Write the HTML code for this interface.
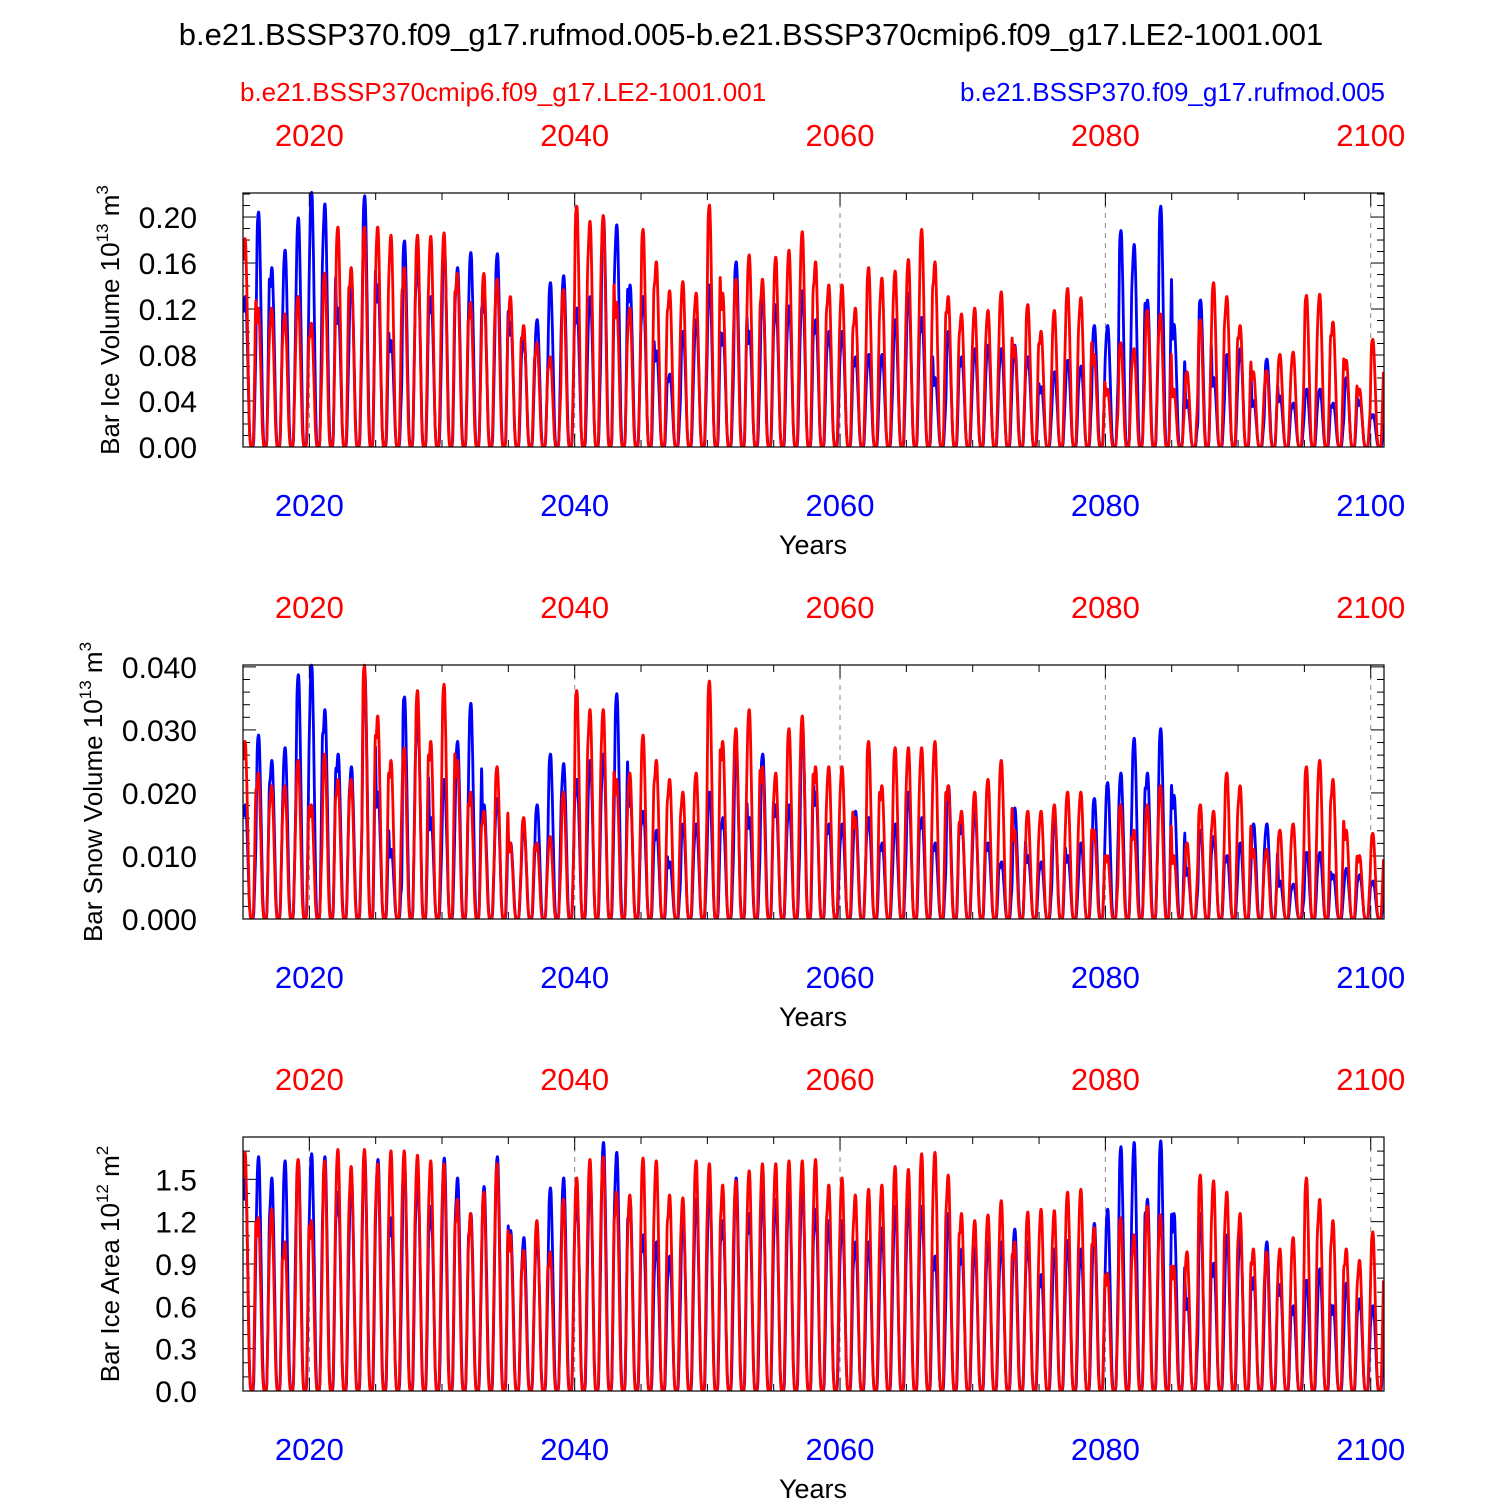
<!DOCTYPE html>
<html><head><meta charset="utf-8"><style>
body{margin:0;background:#fff}
svg text{font-family:"Liberation Sans",Arial,sans-serif}
</style></head><body>
<svg id="chart" width="1500" height="1500" xmlns="http://www.w3.org/2000/svg">
<text x="751" y="45" font-size="31" text-anchor="middle">b.e21.BSSP370.f09_g17.rufmod.005-b.e21.BSSP370cmip6.f09_g17.LE2-1001.001</text>
<text x="240" y="101" font-size="26" fill="#f00">b.e21.BSSP370cmip6.f09_g17.LE2-1001.001</text>
<text x="1385" y="101" font-size="26" fill="#00f" text-anchor="end">b.e21.BSSP370.f09_g17.rufmod.005</text>
</svg>
<script>
const years=[];for(let y=2015;y<=2100;y++)years.push(y);
const seasonShape=[0.9,1,0.97,0.75,0.45,0.15,0.02,0,0,0.05,0.35,0.7];
const xTickLabels=[2020,2040,2060,2080,2100];
const volRed=[0.18,0.12,0.12,0.115,0.13,0.107,0.15,0.19,0.155,0.19,0.19,0.183,0.155,0.183,0.182,0.185,0.15,0.125,0.15,0.145,0.13,0.105,0.09,0.078,0.136,0.208,0.195,0.2,0.125,0.12,0.188,0.16,0.135,0.143,0.133,0.209,0.133,0.145,0.166,0.145,0.164,0.17,0.186,0.16,0.14,0.14,0.12,0.155,0.146,0.152,0.162,0.188,0.16,0.13,0.115,0.12,0.118,0.134,0.087,0.123,0.1,0.118,0.137,0.129,0.08,0.05,0.09,0.085,0.118,0.115,0.05,0.065,0.11,0.142,0.13,0.105,0.065,0.066,0.08,0.082,0.131,0.132,0.108,0.075,0.05,0.093];
const volBlue=[0.13,0.203,0.155,0.17,0.198,0.22,0.21,0.12,0.145,0.217,0.14,0.092,0.178,0.16,0.13,0.175,0.155,0.168,0.13,0.167,0.108,0.095,0.11,0.142,0.148,0.12,0.13,0.198,0.192,0.14,0.13,0.083,0.063,0.1,0.11,0.14,0.098,0.16,0.1,0.135,0.123,0.122,0.135,0.11,0.1,0.1,0.078,0.08,0.08,0.11,0.133,0.112,0.06,0.1,0.078,0.085,0.088,0.085,0.088,0.078,0.052,0.065,0.075,0.07,0.105,0.105,0.187,0.175,0.127,0.208,0.106,0.04,0.127,0.06,0.08,0.085,0.04,0.076,0.044,0.038,0.05,0.05,0.038,0.06,0.04,0.028];
const snowRed=[0.028,0.023,0.021,0.021,0.025,0.018,0.026,0.022,0.022,0.040,0.032,0.025,0.027,0.036,0.028,0.037,0.025,0.02,0.017,0.024,0.012,0.016,0.012,0.013,0.02,0.036,0.033,0.033,0.022,0.023,0.029,0.025,0.022,0.02,0.023,0.0375,0.028,0.03,0.033,0.024,0.023,0.03,0.032,0.024,0.024,0.024,0.016,0.028,0.021,0.027,0.027,0.027,0.028,0.021,0.017,0.02,0.022,0.025,0.014,0.017,0.017,0.018,0.02,0.02,0.014,0.01,0.018,0.014,0.018,0.021,0.01,0.012,0.018,0.017,0.023,0.021,0.011,0.011,0.014,0.015,0.024,0.025,0.022,0.014,0.01,0.0135];
const snowBlue=[0.018,0.029,0.025,0.027,0.0385,0.040,0.033,0.026,0.024,0.039,0.02,0.011,0.035,0.032,0.016,0.022,0.028,0.034,0.018,0.019,0.012,0.0145,0.018,0.026,0.0245,0.022,0.025,0.026,0.0355,0.02,0.017,0.014,0.009,0.015,0.015,0.02,0.016,0.026,0.016,0.026,0.018,0.018,0.030,0.02,0.015,0.015,0.017,0.016,0.012,0.015,0.02,0.016,0.012,0.021,0.015,0.017,0.012,0.009,0.0175,0.01,0.009,0.016,0.01,0.012,0.019,0.0215,0.023,0.0285,0.023,0.030,0.0195,0.008,0.014,0.013,0.01,0.012,0.015,0.015,0.006,0.0055,0.0105,0.0105,0.007,0.008,0.007,0.006];
const areaRed=[1.68,1.22,1.28,1.05,1.63,1.2,1.62,1.7,1.58,1.7,1.6,1.69,1.69,1.66,1.62,1.6,1.35,1.25,1.4,1.6,1.1,0.99,1.2,0.98,1.35,1.5,1.63,1.65,1.4,1.38,1.64,1.62,1.38,1.36,1.62,1.6,1.45,1.48,1.55,1.6,1.6,1.62,1.62,1.63,1.45,1.5,1.38,1.42,1.45,1.58,1.56,1.67,1.68,1.52,1.25,1.2,1.24,1.34,1.05,1.26,1.28,1.27,1.4,1.42,1.15,0.83,1.22,1.1,1.3,1.24,0.88,0.98,1.52,1.48,1.4,1.25,1.0,0.98,1.0,1.08,1.5,1.35,1.2,1.0,0.92,1.12];
const areaBlue=[1.5,1.65,1.5,1.62,1.62,1.67,1.65,1.4,1.5,1.65,1.63,1.22,1.6,1.5,1.3,1.64,1.5,1.25,1.44,1.65,1.13,1.08,1.1,1.43,1.5,1.37,1.5,1.75,1.68,1.35,1.1,1.05,0.95,1.22,1.35,1.45,1.2,1.5,1.25,1.4,1.35,1.4,1.45,1.28,1.2,1.2,1.05,1.05,1.15,1.3,1.35,1.3,0.95,1.25,1.0,1.02,1.05,1.05,1.14,1.05,0.82,1.0,1.06,1.0,1.18,1.28,1.72,1.75,1.35,1.76,1.25,0.65,1.25,0.9,1.1,1.1,0.8,1.05,0.75,0.6,0.78,0.86,0.6,0.76,0.65,0.6];
const p1Ticks=["0.00","0.04","0.08","0.12","0.16","0.20"];
const p2Ticks=["0.000","0.010","0.020","0.030","0.040"];
const p3Ticks=["0.0","0.3","0.6","0.9","1.2","1.5"];

const NS="http://www.w3.org/2000/svg";
const svg=document.getElementById('chart');
function mk(tag,attrs,parent){const e=document.createElementNS(NS,tag);for(const k in attrs)e.setAttribute(k,attrs[k]);(parent||svg).appendChild(e);return e;}
const X0=243,X1=1384,T0=2015,T1=2101;
const xs=t=>X0+(t-T0)/(T1-T0)*(X1-X0);

const panels=[
 {top:193,max:0.2209,ticks:p1Ticks,minor:0.01,red:volRed,blue:volBlue,title:"Bar Ice Volume 10",sup:"13",unit:" m",usup:"3",name:"ice-volume"},
 {top:665,max:0.0403,ticks:p2Ticks,minor:0.002,red:snowRed,blue:snowBlue,title:"Bar Snow Volume 10",sup:"13",unit:" m",usup:"3",name:"snow-volume"},
 {top:1137,max:1.8,ticks:p3Ticks,minor:0.1,red:areaRed,blue:areaBlue,title:"Bar Ice Area 10",sup:"12",unit:" m",usup:"2",name:"ice-area"}
];
function path(arr,ys,shift){
 const pts=[];
 arr.forEach((pk,i)=>{seasonShape.forEach((f,m)=>{pts.push([xs(years[i]+(m+0.5)/12+shift),ys(pk*f)]);});});
 let d="M"+pts[0][0].toFixed(1)+","+pts[0][1].toFixed(1);
 for(let i=0;i<pts.length-1;i++){
  const p0=pts[Math.max(0,i-1)],p1=pts[i],p2=pts[i+1],p3=pts[Math.min(pts.length-1,i+2)];
  const c1=[p1[0]+(p2[0]-p0[0])/6,p1[1]+(p2[1]-p0[1])/6],c2=[p2[0]-(p3[0]-p1[0])/6,p2[1]-(p3[1]-p1[1])/6];
  d+="C"+c1[0].toFixed(1)+","+Math.min(c1[1],ys(0)).toFixed(1)+" "+c2[0].toFixed(1)+","+Math.min(c2[1],ys(0)).toFixed(1)+" "+p2[0].toFixed(1)+","+p2[1].toFixed(1);
 }
 return d;
}
panels.forEach(p=>{
 const bot=p.top+254;
 const ys=v=>bot-v/p.max*(bot-p.top);
 const g=mk('g',{});
 
 
 xTickLabels.forEach(y=>{
  const l=mk('line',{x1:xs(y),x2:xs(y),y1:p.top,y2:bot,stroke:'#888','stroke-width':1,'stroke-dasharray':'5,5'},g);
  
  
 });
 for(let y=2015;y<=2100;y+=5){
  const L=(y%20===0)?13:7;
  mk('line',{x1:xs(y),x2:xs(y),y1:p.top,y2:p.top+L,stroke:'#000','stroke-width':1},g);
  mk('line',{x1:xs(y),x2:xs(y),y1:bot,y2:bot-L,stroke:'#000','stroke-width':1},g);
 }
 const step=parseFloat(p.ticks[1]);
 for(let v=0;v<=p.max+1e-9;v+=p.minor){
  const isMaj=Math.abs(v/step-Math.round(v/step))<1e-6;
  const L=isMaj?13:7;
  mk('line',{x1:X0,x2:X0+L,y1:ys(v),y2:ys(v),stroke:'#000','stroke-width':1},g);
  mk('line',{x1:X1,x2:X1-L,y1:ys(v),y2:ys(v),stroke:'#000','stroke-width':1},g);
 }
 p.ticks.forEach(t=>{
  const tx=mk('text',{x:197,y:ys(parseFloat(t))+11,'font-size':30,'text-anchor':'end'},g);
  tx.textContent=t;
  
  
 });
 xTickLabels.forEach(y=>{
  const a=mk('text',{x:xs(y),y:p.top-47,'font-size':31,'text-anchor':'middle',fill:'#f00'},g);
  a.textContent=y;
  
  
  const b=mk('text',{x:xs(y),y:bot+69,'font-size':31,'text-anchor':'middle',fill:'#00f'},g);
  b.textContent=y;
  
  
 });
 const yr=mk('text',{x:813,y:bot+107,'font-size':27,'text-anchor':'middle'},g);
 yr.textContent="Years";
 
 
 const yt=mk('text',{x:0,y:0,'font-size':26,'text-anchor':'middle',transform:`translate(${p.name==='snow-volume'?102:119},${(p.top+bot)/2}) rotate(-90)`},g);
 yt.innerHTML=p.title+'<tspan dy="-11" font-size="17">'+p.sup+'</tspan><tspan dy="11">'+p.unit+'</tspan><tspan dy="-11" font-size="17">'+p.usup+'</tspan>';
 
 
 const cp=mk('clipPath',{id:'c'+p.name},g);
 mk('rect',{x:X0,y:p.top-2,width:X1-X0,height:256},cp);
 const bl=mk('path',{d:path(p.blue,ys,0.02),fill:'none',stroke:'#00f','stroke-width':2.8,'stroke-linejoin':'round','clip-path':`url(#c${p.name})`},g);
 
 
 const rl=mk('path',{d:path(p.red,ys,0),fill:'none',stroke:'#f00','stroke-width':2.8,'stroke-linejoin':'round','clip-path':`url(#c${p.name})`},g);
 
 
 const fr=mk('rect',{x:X0,y:p.top,width:X1-X0,height:254,fill:'none',stroke:'#000','stroke-width':1.2},g);
 
 
});
</script>
</body></html>
